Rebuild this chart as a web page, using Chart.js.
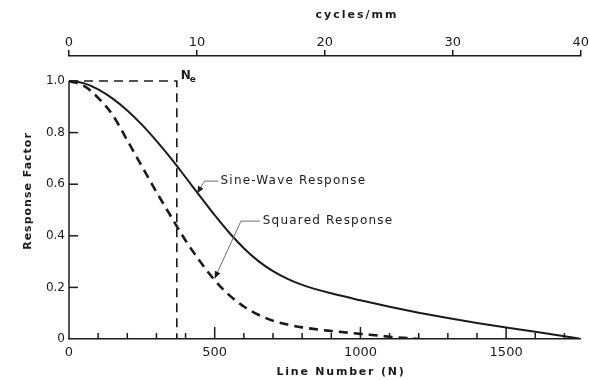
<!DOCTYPE html>
<html>
<head>
<meta charset="utf-8">
<script src="https://cdn.jsdelivr.net/npm/chart.js@4.4.1/dist/chart.umd.min.js"></script>
<style>
  html, body { margin: 0; padding: 0; background: #fff; }
  #wrap { width: 589px; height: 380px; }
</style>
</head>
<body>
<div id="wrap"><canvas id="myChart" width="589" height="380"></canvas></div>
<script>
/*** Data ***/
const sineN = [0, 50, 100, 150, 200, 250, 300, 350, 400, 450, 500, 550, 600, 650, 700, 750, 800, 900, 1000, 1100, 1200, 1300, 1400, 1500, 1600, 1700, 1750];
const sineValues = [1.0, 0.992, 0.968, 0.932, 0.886, 0.831, 0.768, 0.700, 0.627, 0.553, 0.480, 0.412, 0.352, 0.302, 0.263, 0.233, 0.210, 0.177, 0.150, 0.125, 0.102, 0.081, 0.062, 0.045, 0.028, 0.011, 0.002];
const squaredN = [0, 50, 100, 150, 200, 250, 300, 350, 400, 450, 500, 550, 600, 650, 700, 750, 800, 900, 1000, 1100, 1200];
const squaredValues = [1.0, 0.982, 0.935, 0.868, 0.770, 0.670, 0.570, 0.475, 0.382, 0.300, 0.228, 0.170, 0.126, 0.094, 0.071, 0.056, 0.045, 0.031, 0.020, 0.009, 0.0];
const neN = 370;              // limiting line number Ne
const yTicks = [0, 0.2, 0.4, 0.6, 0.8, 1.0];
const lineTickStep = 100;     // minor ticks on Line Number axis
const lineLabelStep = 500;    // labelled ticks
const cyclesTicks = [0, 10, 20, 30, 40];
const sineLabel = "Sine-Wave Response";
const squaredLabel = "Squared Response";

/*** Style ***/
const ink = '#1b1b1b';
const FONT = '"DejaVu Sans", "Liberation Sans", sans-serif';

function pts(xs, ys) {
    return xs.map((x, i) => ({ x: x, y: ys[i] }));
}

// small filled arrow head at the end of a leader line
function drawArrow(ctx, x1, y1, x2, y2) {
    const a = Math.atan2(y2 - y1, x2 - x1);
    const len = 7, w = 3;
    ctx.beginPath();
    ctx.moveTo(x2, y2);
    ctx.lineTo(x2 - len * Math.cos(a) + w * Math.sin(a), y2 - len * Math.sin(a) - w * Math.cos(a));
    ctx.lineTo(x2 - len * Math.cos(a) - w * Math.sin(a), y2 - len * Math.sin(a) + w * Math.cos(a));
    ctx.closePath();
    ctx.fill();
}

const decorPlugin = {
    id: 'decor',
    beforeDraw(chart) {
        chart.ctx.letterSpacing = '0px';
    },
    afterDatasetsDraw(chart) {
        const ctx = chart.ctx;
        const xs = chart.scales.x, ys = chart.scales.y;
        ctx.save();
        ctx.strokeStyle = ink;
        ctx.fillStyle = ink;
        ctx.lineWidth = 1.5;
        // left axis line, only from 0 to 1.0
        ctx.beginPath();
        ctx.moveTo(xs.left, ys.getPixelForValue(0));
        ctx.lineTo(xs.left, ys.getPixelForValue(1.0));
        ctx.stroke();
        // inward ticks on y
        yTicks.forEach((v) => {
            if (v === 0) return;
            const py = ys.getPixelForValue(v);
            ctx.beginPath();
            ctx.moveTo(xs.left, py);
            ctx.lineTo(xs.left + 9, py);
            ctx.stroke();
        });
        // inward ticks on bottom axis
        const base = ys.getPixelForValue(0);
        xs.ticks.forEach((t) => {
            if (t.value === 0) return;
            const px = xs.getPixelForValue(t.value);
            const len = (t.value % lineLabelStep === 0) ? 12 : 6;
            ctx.beginPath();
            ctx.moveTo(px, base);
            ctx.lineTo(px, base - len);
            ctx.stroke();
        });

        // annotations
        ctx.font = '12px ' + FONT;
        ctx.letterSpacing = '1.2px';
        ctx.textBaseline = 'middle';
        ctx.textAlign = 'left';
        ctx.fillText(sineLabel, xs.getPixelForValue(520), ys.getPixelForValue(0.612));
        ctx.fillText(squaredLabel, xs.getPixelForValue(665), ys.getPixelForValue(0.457));

        ctx.strokeStyle = '#6e6e6e';
        ctx.fillStyle = ink;
        ctx.lineWidth = 1;
        // sine leader
        let p0 = [xs.getPixelForValue(512), ys.getPixelForValue(0.612)];
        let p1 = [xs.getPixelForValue(465), ys.getPixelForValue(0.612)];
        let p2 = [xs.getPixelForValue(440), ys.getPixelForValue(0.565)];
        ctx.beginPath();
        ctx.moveTo(p0[0], p0[1]); ctx.lineTo(p1[0], p1[1]); ctx.lineTo(p2[0], p2[1]);
        ctx.stroke();
        drawArrow(ctx, p1[0], p1[1], p2[0], p2[1]);
        // squared leader
        p0 = [xs.getPixelForValue(655), ys.getPixelForValue(0.457)];
        p1 = [xs.getPixelForValue(590), ys.getPixelForValue(0.457)];
        p2 = [xs.getPixelForValue(500), ys.getPixelForValue(0.235)];
        ctx.beginPath();
        ctx.moveTo(p0[0], p0[1]); ctx.lineTo(p1[0], p1[1]); ctx.lineTo(p2[0], p2[1]);
        ctx.stroke();
        drawArrow(ctx, p1[0], p1[1], p2[0], p2[1]);

        // Ne label
        const nx = xs.getPixelForValue(neN) + 4;
        const ny = ys.getPixelForValue(1.0) - 6;
        ctx.letterSpacing = '0px';
        ctx.font = 'bold 12px ' + FONT;
        ctx.textBaseline = 'alphabetic';
        ctx.fillText('N', nx, ny + 4);
        ctx.font = 'bold 9px ' + FONT;
        ctx.fillText('e', nx + 9, ny + 7);
        ctx.restore();
    },
    afterDraw(chart) {
        const ctx = chart.ctx;
        ctx.save();
        ctx.fillStyle = ink;
        ctx.textAlign = 'center';
        ctx.textBaseline = 'middle';
        ctx.font = 'bold 11px ' + FONT;
        ctx.letterSpacing = '2px';
        ctx.fillText('cycles/mm', 357, 15);
        ctx.letterSpacing = '1.8px';
        ctx.fillText('Line Number (N)', 341, 372);
        ctx.translate(28, 191);
        ctx.rotate(-Math.PI / 2);
        ctx.letterSpacing = '1px';
        ctx.fillText('Response Factor', 0, 0);
        ctx.restore();
    }
};

function renderChart() {
    const chartData = {
        datasets: [
            {
                label: sineLabel,
                data: pts(sineN, sineValues),
                borderColor: ink,
                borderWidth: 2,
                showLine: true,
                pointRadius: 0,
                cubicInterpolationMode: 'monotone'
            },
            {
                label: squaredLabel,
                data: pts(squaredN, squaredValues),
                borderColor: ink,
                borderWidth: 2.6,
                borderDash: [9, 6],
                showLine: true,
                pointRadius: 0,
                cubicInterpolationMode: 'monotone'
            },
            {
                label: 'Ne',
                data: [{ x: 0, y: 1.0 }, { x: neN, y: 1.0 }, { x: neN, y: 0 }],
                borderColor: ink,
                borderWidth: 1.6,
                borderDash: [9, 6],
                showLine: true,
                pointRadius: 0,
                tension: 0
            }
        ]
    };

    const options = {
        responsive: false,
        animation: false,
        layout: { padding: { left: 0, right: 6, top: 0, bottom: 0 } },
        plugins: { legend: { display: false }, tooltip: { enabled: false } },
        scales: {
            x: {
                type: 'linear',
                position: 'bottom',
                min: 0,
                max: 1756,
                afterBuildTicks: (s) => {
                    const t = [];
                    for (let v = 0; v <= 1700; v += lineTickStep) t.push({ value: v });
                    s.ticks = t;
                },
                afterFit: (s) => { s.height = 41; },
                grid: { display: false, drawTicks: false },
                border: { display: true, color: ink, width: 1.5 },
                ticks: {
                    color: ink,
                    padding: 6,
                    maxRotation: 0,
                    autoSkip: false,
                    font: { family: FONT, size: 13 },
                    callback: (v) => (v % lineLabelStep === 0 ? String(v) : '')
                }
            },
            x2: {
                type: 'linear',
                position: 'top',
                min: 0,
                max: 40,
                afterBuildTicks: (s) => { s.ticks = cyclesTicks.map((v) => ({ value: v })); },
                afterFit: (s) => { s.height = 56; },
                grid: { display: true, drawOnChartArea: false, drawTicks: true, tickLength: 6, color: ink, lineWidth: 1.5 },
                border: { display: true, color: ink, width: 1.5 },
                ticks: {
                    color: ink,
                    padding: 0,
                    maxRotation: 0,
                    font: { family: FONT, size: 13 }
                }
            },
            y: {
                type: 'linear',
                min: 0,
                max: 1.097,
                afterBuildTicks: (s) => { s.ticks = yTicks.map((v) => ({ value: v })); },
                afterFit: (s) => { s.width = 69; },
                grid: { display: false, drawTicks: false },
                border: { display: false },
                ticks: {
                    color: ink,
                    padding: 4,
                    font: { family: FONT, size: 12 },
                    callback: (v) => (v === 0 ? '0' : v.toFixed(1))
                }
            }
        }
    };

    const ctx = document.getElementById('myChart').getContext('2d');
    window.myChart = new Chart(ctx, {
        type: 'scatter',
        data: chartData,
        options: options,
        plugins: [decorPlugin]
    });
}
renderChart();
</script>
</body>
</html>
